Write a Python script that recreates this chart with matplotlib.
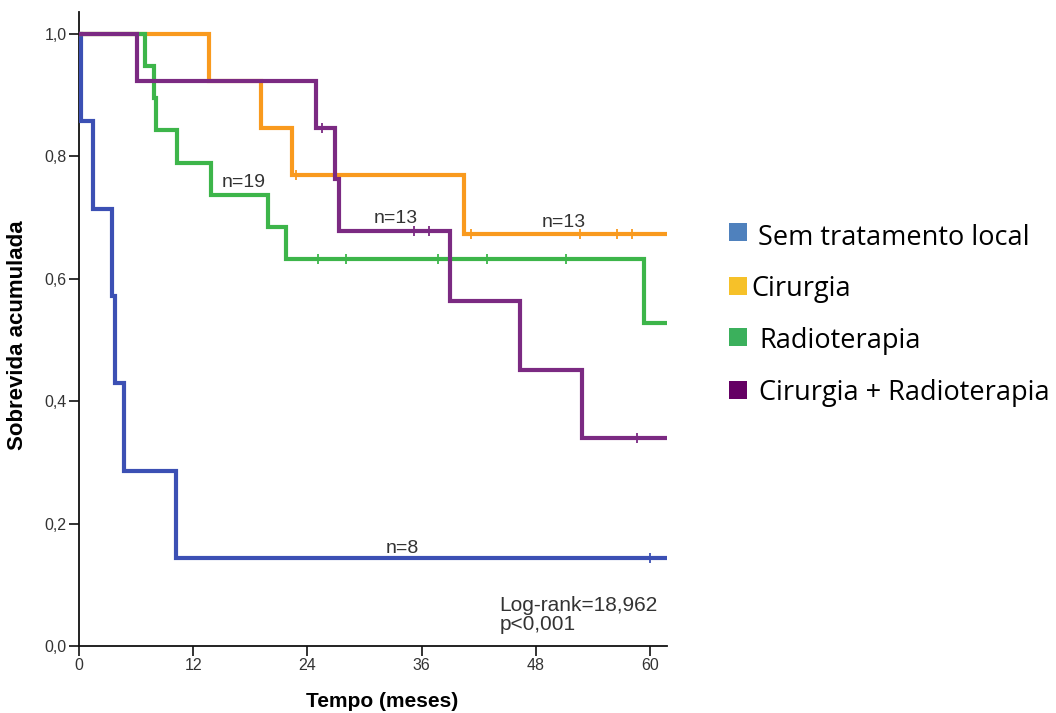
import matplotlib
matplotlib.use("Agg")
import matplotlib.pyplot as plt
from matplotlib.patches import Rectangle

# ---------------- data ----------------
groups = ["Sem tratamento local", "Cirurgia", "Radioterapia", "Cirurgia + Radioterapia"]

blue_t = [0, 0.2, 1.5, 3.5, 3.75, 4.7, 10.2, 61.8]
blue_s = [1.0, 0.857, 0.714, 0.571, 0.429, 0.286, 0.143, 0.143]
blue_cens_t = [60.0]
blue_cens_s = [0.143]

orange_t = [0, 13.65, 19.1, 22.4, 40.5, 61.8]
orange_s = [1.0, 0.923, 0.846, 0.769, 0.673, 0.673]
orange_cens_t = [22.8, 41.2, 52.7, 56.5, 58.1]
orange_cens_s = [0.769, 0.673, 0.673, 0.673, 0.673]

green_t = [0, 6.9, 7.9, 8.1, 10.25, 13.9, 19.9, 21.8, 59.35, 61.8]
green_s = [1.0, 0.947, 0.895, 0.842, 0.789, 0.737, 0.684, 0.632, 0.527, 0.527]
green_cens_t = [25.1, 28.1, 37.7, 42.9, 51.2]
green_cens_s = [0.632, 0.632, 0.632, 0.632, 0.632]

purple_t = [0, 6.05, 24.9, 26.9, 27.35, 39.0, 46.3, 52.9, 61.8]
purple_s = [1.0, 0.923, 0.846, 0.763, 0.677, 0.563, 0.451, 0.339, 0.339]
purple_cens_t = [25.5, 35.2, 36.8, 58.6]
purple_cens_s = [0.846, 0.677, 0.677, 0.339]

x_ticks = [0, 12, 24, 36, 48, 60]
y_ticks = [0.0, 0.2, 0.4, 0.6, 0.8, 1.0]
y_tick_labels = ["0,0", "0,2", "0,4", "0,6", "0,8", "1,0"]

n_labels = ["n=8", "n=13", "n=19", "n=13"]
n_label_x = [34.0, 50.9, 17.3, 33.3]
n_label_y = [0.152, 0.685, 0.750, 0.691]

stats_lines = ["Log-rank=18,962", "p<0,001"]
stats_y = [0.057, 0.026]

line_colors = ["#3c50b4", "#f99a1e", "#3db54a", "#7b2a82"]
legend_colors = ["#4f81bd", "#f6c129", "#3bb05c", "#650064"]

# ---------------- figure ----------------
W, H = 1056, 713
fig = plt.figure(figsize=(W / 100, H / 100), dpi=100)
ax = fig.add_axes([79 / W, (H - 646) / H, (667 - 79) / W, (646 - 12) / H])

series = [
    (blue_t, blue_s, blue_cens_t, blue_cens_s),
    (orange_t, orange_s, orange_cens_t, orange_cens_s),
    (green_t, green_s, green_cens_t, green_cens_s),
    (purple_t, purple_s, purple_cens_t, purple_cens_s),
]
for (t, s, ct, cs), col in zip(series, line_colors):
    ax.step(t, s, where="post", color=col, lw=3.0, solid_capstyle="butt",
            solid_joinstyle="miter", zorder=3)
    ax.plot(ct, cs, ls="none", marker="|", ms=7, mew=1.3, color=col, zorder=4)

ax.set_xlim(0, 61.8)
ax.set_ylim(0, 1.0354)
ax.set_xticks(x_ticks)
ax.set_xticklabels([str(v) for v in x_ticks])
ax.set_yticks(y_ticks)
ax.set_yticklabels(y_tick_labels)
for side in ["top", "right"]:
    ax.spines[side].set_visible(False)
for side in ["left", "bottom"]:
    ax.spines[side].set_linewidth(1.3)
    ax.spines[side].set_color("#111111")
ax.tick_params(direction="out", length=7, width=1.2, color="#111111",
               labelsize=11.5, labelcolor="#333333", pad=2)
for lab in ax.get_xticklabels() + ax.get_yticklabels():
    lab.set_family("Liberation Sans")

ax.set_xlabel("Tempo (meses)", fontsize=15, fontweight="bold",
              family="Liberation Sans")
ax.xaxis.set_label_coords(0.516, -0.073)
ax.set_ylabel("Sobrevida acumulada", fontsize=16, fontweight="bold",
              family="Liberation Sans")
ax.yaxis.set_label_coords(-0.087, 0.49)

for txt, x, y in zip(n_labels, n_label_x, n_label_y):
    ax.text(x, y, txt, fontsize=14, family="Liberation Sans", color="#333333",
            ha="center", va="baseline", zorder=5)

for txt, y in zip(stats_lines, stats_y):
    ax.text(44.2, y, txt, fontsize=15, family="Liberation Sans",
            color="#333333", ha="left", va="baseline")

# ---------------- legend (outside, manual) ----------------
sq_y = [232.5, 285.5, 337.5, 389.5]
txt_x = [758, 751, 759, 759]
base_y = [245, 296, 348, 400]
for name, col, sy, tx, by in zip(groups, legend_colors, sq_y, txt_x, base_y):
    fig.patches.append(Rectangle((729 / W, 1 - (sy + 9) / H), 18 / W, 18 / H,
                                 transform=fig.transFigure, facecolor=col,
                                 edgecolor="none"))
    fig.text(tx / W, 1 - by / H, name, fontsize=19.5, family="Open Sans",
             color="black", ha="left", va="baseline")

fig.savefig("out.png", dpi=100)
